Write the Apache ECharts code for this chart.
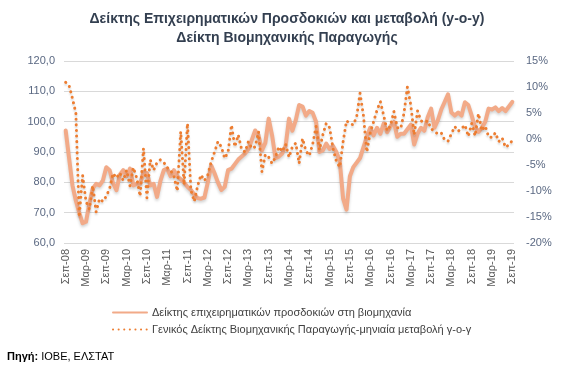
<!DOCTYPE html>
<html><head><meta charset="utf-8">
<script src="https://cdn.jsdelivr.net/npm/echarts@6/dist/echarts.min.js"></script>
<style>html,body{margin:0;padding:0;background:#fff}#c{width:574px;height:371px}</style>
</head><body><div id="c"></div>
<script>
// Categories: monthly, Sep-2008 .. Sep-2019
const monthAbbr = ['Ιαν','Φεβ','Μαρ','Απρ','Μαϊ','Ιουν','Ιουλ','Αυγ','Σεπ','Οκτ','Νοε','Δεκ'];
const categories = [];
for (let y = 2008, m = 8; y < 2019 || (y === 2019 && m <= 8); ) {
  categories.push(monthAbbr[m] + '-' + String(y % 100).padStart(2, '0'));
  m++; if (m === 12) { m = 0; y++; }
}

// Business expectations index in industry (left axis)
const businessExpectations = [
  97.1,88,79,74,70,66.5,67,73,78,79.5,
  79,80.6,85,84,79.7,77.4,82.5,84,82,84.5,
  79,79.5,79.5,83.4,83,79,79.5,75.2,80.5,84,
  84.5,82,84,82,81,80,78.5,77.5,76,74.8,
  74.6,75,80,85.6,83,80,77.5,78.5,84,84.5,
  86,87.5,88.5,89.5,91,94,97.1,95.5,90.5,93,
  101,95.5,88,88.5,89.5,92,101,97,100.5,105.5,
  105,102,103.5,102.9,100,90,90.5,92.8,91,92,
  90,87,74.6,71,82,85,86.5,88,91.5,95,
  98,95.5,98,96,99.4,96.5,98.5,99.9,95,96,
  96,97.5,99,92.5,96,98,97,101.5,104.3,98,
  100.5,104,106.5,109,103,102,103,102,106.4,105.5,
  102,98.2,96.6,98,100,104.3,104,104.7,103.5,104.5,
  103.5,105,106.5
];

// Industrial production index, monthly y-o-y change, % (right axis)
const industrialProductionYoY = [
  10.9,10.3,7.8,5,-15,-7,-12,-13.5,-9,-14,
  -11.5,-12,-11,-9.5,-6.6,-7.5,-6.5,-8,-6,-9,
  -5.5,-7.5,-11,-1.8,-11.3,-4,-6,-4.5,-4,-4.5,
  -5.5,-6,-7.2,-10,1.4,-8.8,3,-9.8,-12,-9,
  -6.9,-8,-6.9,-4.4,-2.5,-0.5,-1.5,-3.7,-2.5,2.7,
  -1.5,0.8,-2,-2.5,-0.5,-1.8,-1.5,1.4,-6.3,-3,
  -3.5,-4.7,-3.5,-1.5,-2.4,-1,-3.5,-1.5,-0.8,-4.7,
  0.1,-2.3,-3.2,-1,2.4,-2.1,0.8,3,2.2,-1.8,
  -4.3,-5.4,-0.5,3.5,3,2.7,4.3,8.8,4.5,-2.5,
  1.2,3.3,5.5,7.2,4.5,1.6,2.6,5.3,2.2,2,
  5,10,6.5,0.8,5.4,3.5,3.2,3.5,2,1.4,
  1,1.2,-0.2,-0.4,1,2.4,1.5,2,2.7,0.5,
  3,0.6,4.9,1.6,2.5,0.4,0.3,1.2,-0.5,0.2,
  -1.6,-1.1,-0.3
];

const seriesNames = [
  'Δείκτης επιχειρηματικών προσδοκιών στη βιομηχανία',
  'Γενικός Δείκτης Βιομηχανικής Παραγωγής-μηνιαία μεταβολή γ-ο-γ'
];
const titleLines = [
  'Δείκτης Επιχειρηματικών Προσδοκιών και μεταβολή (y-o-y)',
  'Δείκτη Βιομηχανικής Παραγωγής'
];
const leftAxis = { min: 60, max: 120, interval: 10 };
const rightAxis = { min: -20, max: 15, interval: 5 };

const FONT = 'Liberation Sans, Arial, sans-serif';
const chart = echarts.init(document.getElementById('c'), null, { renderer: 'canvas' });
chart.setOption({
  animation: false,
  backgroundColor: '#ffffff',
  textStyle: { fontFamily: FONT },
  title: {
    text: titleLines.join('\n'),
    left: 'center', top: 5,
    textStyle: { fontSize: 14, fontWeight: 'bold', color: '#333F50', lineHeight: 19, fontFamily: FONT }
  },
  grid: { left: 64, right: 60, top: 61, bottom: 128 },
  legend: {
    orient: 'vertical', left: 107, top: 302,
    itemWidth: 34, itemHeight: 12, itemGap: 6,
    itemStyle: { opacity: 0 },
    textStyle: { fontSize: 11, color: '#404040', fontFamily: FONT },
    data: seriesNames
  },
  xAxis: {
    type: 'category', data: categories, boundaryGap: true,
    axisLine: { show: false }, axisTick: { show: false },
    axisLabel: { interval: 5, rotate: 90, fontSize: 11, color: '#595959', margin: 6, fontFamily: FONT }
  },
  yAxis: [
    {
      type: 'value', min: leftAxis.min, max: leftAxis.max, interval: leftAxis.interval,
      axisLine: { show: false }, axisTick: { show: false },
      splitLine: { lineStyle: { color: '#D9D9D9', width: 1 } },
      axisLabel: { fontSize: 11, color: '#5A6882', margin: 9, fontFamily: FONT,
        formatter: v => v.toFixed(1).replace('.', ',') }
    },
    {
      type: 'value', min: rightAxis.min, max: rightAxis.max, interval: rightAxis.interval,
      axisLine: { show: false }, axisTick: { show: false }, splitLine: { show: false },
      axisLabel: { fontSize: 11, color: '#5A6882', margin: 12, fontFamily: FONT,
        formatter: v => v + '%' }
    }
  ],
  series: [
    {
      name: seriesNames[0], type: 'line', yAxisIndex: 0, data: businessExpectations,
      symbol: 'none', smooth: false,
      lineStyle: { color: '#F2AA88', width: 4, cap: 'round', join: 'round',
        shadowColor: 'rgba(0,0,0,0.18)', shadowBlur: 3, shadowOffsetY: 2 },
      itemStyle: { color: '#F2AA88' }
    },
    {
      name: seriesNames[1], type: 'line', yAxisIndex: 1, data: industrialProductionYoY,
      symbol: 'none', smooth: false,
      lineStyle: { color: '#ED7D31', width: 3, type: [0.1, 5.5], cap: 'round', join: 'round',
        shadowColor: 'rgba(0,0,0,0.15)', shadowBlur: 2, shadowOffsetY: 2 },
      itemStyle: { color: '#ED7D31' }
    }
  ],
  graphic: [
    {
      type: 'text', left: 7, top: 351,
      style: {
        text: '{b|Πηγή:} ΙΟΒΕ, ΕΛΣΤΑΤ',
        fontSize: 11, fill: '#000', fontFamily: FONT,
        rich: { b: { fontWeight: 'bold', fontSize: 11, fill: '#000', fontFamily: FONT } }
      }
    }
  ]
});
</script>
</body></html>
